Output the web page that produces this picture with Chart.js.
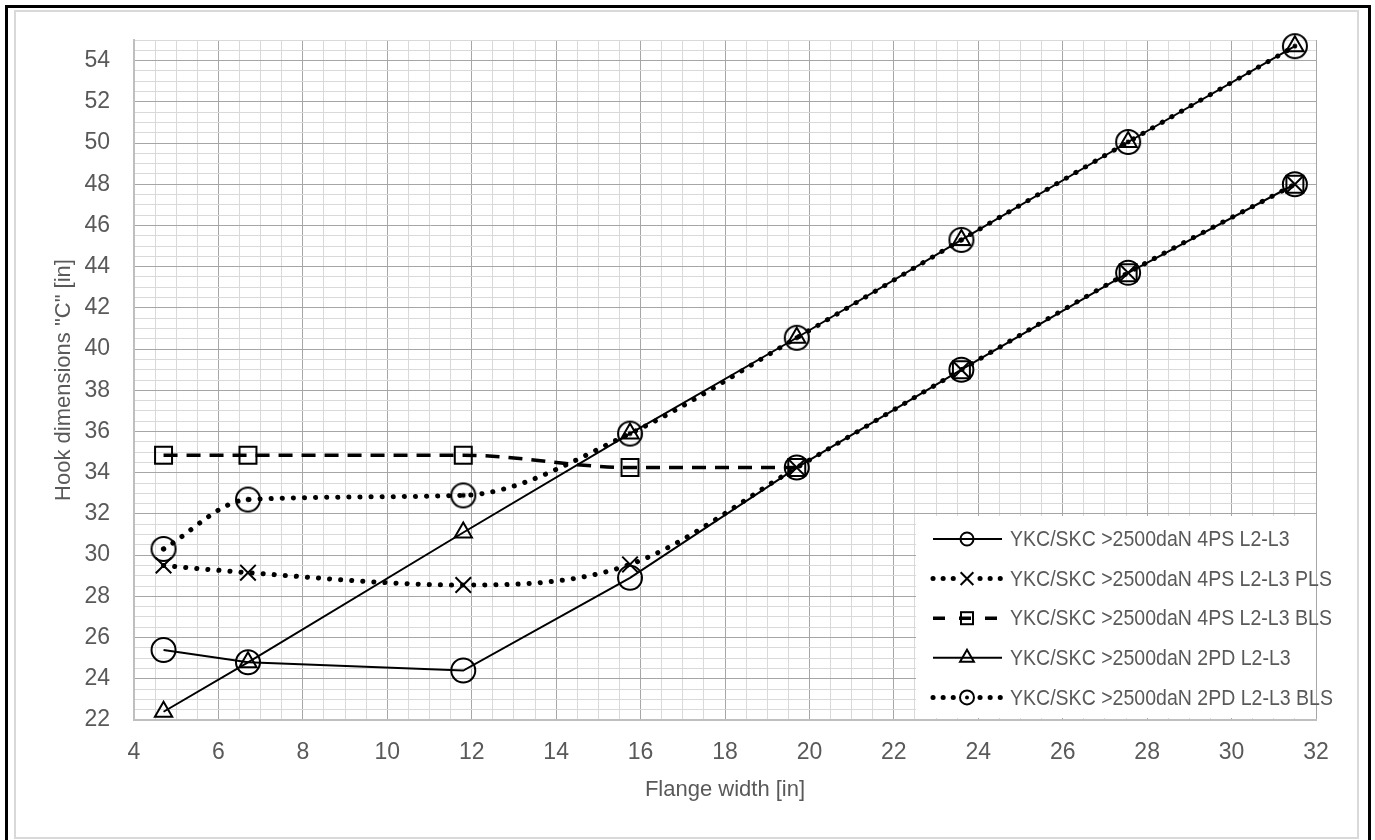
<!DOCTYPE html>
<html lang="en">
<head>
    <meta charset="UTF-8">
    <title>Hook dimensions "C" vs Flange width</title>
    <script src="https://cdn.jsdelivr.net/npm/chart.js"></script>
    <style>
        body, html {
            margin: 0;
            padding: 0;
            background: #ffffff;
        }
        .frame {
            position: absolute;
            left: 5px;
            top: 5px;
            width: 1360px;
            height: 840px;
            border: 3px solid #000;
            border-bottom: none;
        }
        .inner {
            position: absolute;
            left: 14px;
            top: 10px;
            width: 1341px;
            height: 825px;
            border: 2px solid #d9d9d9;
        }
        #hookChart {
            position: absolute;
            left: 0;
            top: 0;
        }
    </style>
</head>
<body>
    <div class="frame"></div>
    <div class="inner"></div>
    <canvas id="hookChart" width="1375" height="840"></canvas>

    <script>
        // values
        const flangeWidth = [4.7, 6.7, 11.8, 15.75, 19.7, 23.6, 27.55, 31.5];
        const ps4 = [25.4, 24.8, 24.4, 28.9, 34.25, 39.0, 43.7, 48.0];
        const ps4Pls = [29.5, 29.15, 28.55, 29.55, 34.25, 39.0, 43.7, 48.0];
        const ps4Bls = [34.85, 34.85, 34.85, 34.25, 34.25, 39.0, 43.7, 48.0];
        const pd2 = [22.4, 24.8, 31.1, 35.9, 40.55, 45.3, 50.05, 54.7];
        const pd2Bls = [30.3, 32.7, 32.9, 35.9, 40.55, 45.3, 50.05, 54.7];
        const seriesNames = [
            'YKC/SKC >2500daN 4PS L2-L3',
            'YKC/SKC >2500daN 4PS L2-L3 PLS',
            'YKC/SKC >2500daN 4PS L2-L3 BLS',
            'YKC/SKC >2500daN 2PD L2-L3',
            'YKC/SKC >2500daN 2PD L2-L3 BLS'
        ];

        const FONT = "'Liberation Sans', Arial, sans-serif";
        const TEXT = '#595959';

        function toPoints(ys) {
            return flangeWidth.map((x, i) => ({ x: x, y: ys[i] }));
        }

        function drawMarker(ctx, name, x, y, r) {
            ctx.save();
            ctx.strokeStyle = '#000';
            ctx.fillStyle = '#000';
            ctx.lineWidth = 2;
            ctx.setLineDash([]);
            ctx.beginPath();
            if (name === 'circle' || name === 'dotCircle') {
                ctx.arc(x, y, r, 0, Math.PI * 2);
                ctx.stroke();
                if (name === 'dotCircle') {
                    ctx.beginPath();
                    ctx.arc(x, y, Math.max(2, r * 0.2), 0, Math.PI * 2);
                    ctx.fill();
                }
            } else if (name === 'crossRot') {
                const d = r * Math.SQRT1_2;
                ctx.moveTo(x - d, y - d); ctx.lineTo(x + d, y + d);
                ctx.moveTo(x + d, y - d); ctx.lineTo(x - d, y + d);
                ctx.stroke();
            } else if (name === 'rect') {
                const h = r * Math.SQRT1_2;
                ctx.strokeRect(x - h, y - h, 2 * h, 2 * h);
            } else if (name === 'triangle') {
                ctx.moveTo(x, y - r);
                ctx.lineTo(x + r * 0.866, y + r / 2);
                ctx.lineTo(x - r * 0.866, y + r / 2);
                ctx.closePath();
                ctx.stroke();
            }
            ctx.restore();
        }

        // circle with a dot, Chart.js has no such point style
        const dotCircle = document.createElement('canvas');
        dotCircle.width = 30;
        dotCircle.height = 30;
        drawMarker(dotCircle.getContext('2d'), 'dotCircle', 15, 15, 12);

        function gridColor(v) {
            return Math.abs(v % 2) < 1e-6 ? '#a6a6a6' : '#d9d9d9';
        }
        function evenLabel(v) {
            return Math.abs(v % 2) < 1e-6 ? v : '';
        }

        const insideLegend = {
            id: 'insideLegend',
            afterDatasetsDraw(chart) {
                const { ctx, chartArea } = chart;
                const left = chartArea.right - 400;
                const top = chartArea.bottom - 204;
                ctx.save();
                ctx.fillStyle = '#ffffff';
                ctx.fillRect(left, top, chartArea.right - left, 202);
                chart.data.datasets.forEach((ds, i) => {
                    const y = top + 23 + i * 39.6;
                    const x0 = left + 17, x1 = left + 86, xm = left + 51;
                    ctx.save();
                    ctx.strokeStyle = '#000';
                    ctx.lineWidth = ds.borderWidth;
                    ctx.lineCap = ds.borderCapStyle || 'butt';
                    ctx.setLineDash(ds.legendDash || ds.borderDash || []);
                    ctx.beginPath();
                    if (ds.legendSplit) {
                        ctx.moveTo(x0, y); ctx.lineTo(xm - 12, y);
                        ctx.moveTo(xm + 13, y); ctx.lineTo(x1, y);
                    } else {
                        ctx.moveTo(x0, y); ctx.lineTo(x1, y);
                    }
                    ctx.stroke();
                    ctx.restore();
                    drawMarker(ctx, ds.markerName, xm, y, ds.legendRadius);
                    // narrow-looking text like the original
                    ctx.save();
                    ctx.translate(left + 94, y + 1);
                    ctx.scale(0.93, 1.08);
                    ctx.fillStyle = TEXT;
                    ctx.font = '21px ' + FONT;
                    ctx.textBaseline = 'middle';
                    ctx.fillText(ds.label, 0, 0);
                    ctx.restore();
                });
                ctx.restore();
            }
        };

        const common = {
            borderColor: '#000',
            pointBorderColor: '#000',
            pointBackgroundColor: 'rgba(0,0,0,0)',
            pointBorderWidth: 2,
            showLine: true,
            clip: false
        };

        new Chart(document.getElementById('hookChart'), {
            type: 'scatter',
            data: {
                datasets: [
                    Object.assign({}, common, {
                        label: seriesNames[0], data: toPoints(ps4),
                        borderWidth: 2, tension: 0,
                        pointStyle: 'circle', pointRadius: 12,
                        markerName: 'circle', legendRadius: 6.5
                    }),
                    Object.assign({}, common, {
                        label: seriesNames[1], data: toPoints(ps4Pls),
                        borderWidth: 5, borderDash: [0.1, 11], borderCapStyle: 'round',
                        legendDash: [0.1, 10],
                        cubicInterpolationMode: 'monotone',
                        pointStyle: 'crossRot', pointRadius: 11,
                        markerName: 'crossRot', legendRadius: 9, legendSplit: true
                    }),
                    Object.assign({}, common, {
                        label: seriesNames[2], data: toPoints(ps4Bls),
                        borderWidth: 3.5, borderDash: [14, 9], legendDash: [12, 14],
                        cubicInterpolationMode: 'monotone',
                        // past 19.7 the dashes sit under the other two lines
                        segment: {
                            borderColor: s => s.p0DataIndex >= 4 ? 'rgba(0,0,0,0)' : undefined
                        },
                        pointStyle: 'rect', pointRadius: 12,
                        markerName: 'rect', legendRadius: 8.5
                    }),
                    Object.assign({}, common, {
                        label: seriesNames[3], data: toPoints(pd2),
                        borderWidth: 2, tension: 0,
                        pointStyle: 'triangle', pointRadius: 10,
                        markerName: 'triangle', legendRadius: 8
                    }),
                    Object.assign({}, common, {
                        label: seriesNames[4], data: toPoints(pd2Bls),
                        borderWidth: 5, borderDash: [0.1, 11], borderCapStyle: 'round',
                        legendDash: [0.1, 10],
                        cubicInterpolationMode: 'monotone',
                        pointStyle: dotCircle, pointRadius: 12,
                        markerName: 'dotCircle', legendRadius: 7, legendSplit: true
                    })
                ]
            },
            options: {
                responsive: false,
                animation: false,
                layout: { padding: { left: 14, top: 40, right: 59, bottom: 20 } },
                plugins: {
                    legend: { display: false },
                    tooltip: { enabled: false }
                },
                scales: {
                    x: {
                        type: 'linear',
                        min: 4,
                        max: 32,
                        ticks: {
                            stepSize: 0.5,
                            autoSkip: false,
                            maxRotation: 0,
                            padding: 19,
                            color: TEXT,
                            font: { family: FONT, size: 23 },
                            callback: evenLabel
                        },
                        grid: {
                            color: c => gridColor(c.tick.value),
                            lineWidth: 1,
                            drawTicks: false
                        },
                        border: { color: '#bfbfbf', width: 2 },
                        title: {
                            display: true,
                            text: 'Flange width [in]',
                            color: TEXT,
                            font: { family: FONT, size: 22 },
                            padding: { top: 0, bottom: 17 }
                        },
                        afterFit: s => { s.height = 100; }
                    },
                    y: {
                        type: 'linear',
                        min: 22,
                        max: 55,
                        ticks: {
                            stepSize: 0.5,
                            autoSkip: false,
                            padding: 24,
                            color: TEXT,
                            font: { family: FONT, size: 23 },
                            callback: evenLabel
                        },
                        grid: {
                            color: c => gridColor(c.tick.value),
                            lineWidth: 1,
                            drawTicks: false
                        },
                        border: { color: '#bfbfbf', width: 2 },
                        title: {
                            display: true,
                            text: 'Hook dimensions "C" [in]',
                            color: TEXT,
                            font: { family: FONT, size: 22 },
                            padding: { top: 37, bottom: 0 }
                        },
                        afterFit: s => { s.width = 120; }
                    }
                }
            },
            plugins: [insideLegend]
        });
    </script>
</body>
</html>
